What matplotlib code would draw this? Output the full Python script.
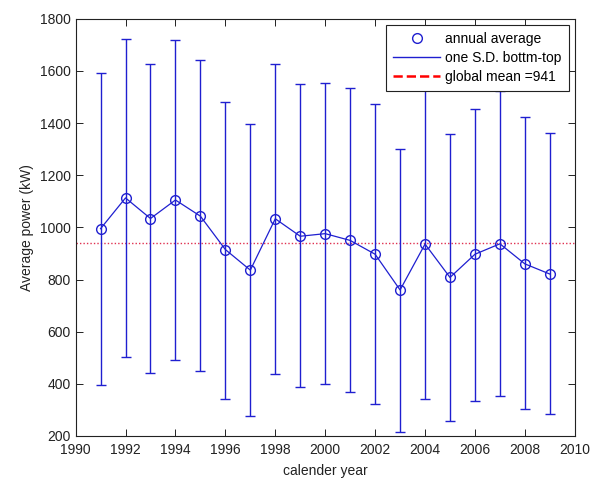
import numpy as np
import matplotlib.pyplot as plt
from matplotlib.lines import Line2D

plt.rcParams['font.family'] = ['Liberation Sans', 'DejaVu Sans']

# annual statistics
years = [1991, 1992, 1993, 1994, 1995, 1996, 1997, 1998, 1999, 2000,
         2001, 2002, 2003, 2004, 2005, 2006, 2007, 2008, 2009]
annual_mean = [995, 1113, 1034, 1105, 1043, 915, 836, 1033, 966, 976,
               950, 897, 760, 936, 808, 897, 937, 860, 821]
sd_top = [1592, 1724, 1628, 1720, 1641, 1481, 1396, 1628, 1548, 1552,
          1533, 1472, 1300, 1530, 1357, 1455, 1522, 1422, 1361]
sd_bottom = [396, 503, 440, 493, 448, 343, 277, 436, 389, 401,
             369, 321, 214, 343, 256, 333, 353, 303, 286]
global_mean = 941

blue = '#1f1fd0'

fig = plt.figure(figsize=(6.0, 4.79), dpi=100)
ax = fig.add_axes([0.126, 0.0898, 0.832, 0.871])

m = np.array(annual_mean)
yerr = [m - np.array(sd_bottom), np.array(sd_top) - m]
ax.errorbar(years, annual_mean, yerr=yerr, fmt='-', color=blue,
            ecolor=blue, elinewidth=1.0, linewidth=0.9, capsize=3.4,
            capthick=1.0, zorder=3)
ax.plot(years, annual_mean, 'o', mfc='none', mec=blue, ms=7, mew=1.0, zorder=4)
ax.axhline(global_mean, color='#e03050', linestyle=(0, (1, 1.5)), linewidth=1.0, zorder=2)

ax.set_xlim(1990, 2010)
ax.set_ylim(200, 1800)
ax.set_xticks(np.arange(1990, 2011, 2))
ax.set_yticks(np.arange(200, 1801, 200))
ax.tick_params(direction='in', top=True, right=True, length=5, labelsize=10,
               colors='#222222', width=0.7)
ax.tick_params(axis='x', pad=5)
for s in ax.spines.values():
    s.set_linewidth(0.8)
    s.set_color('#222222')

ax.set_xlabel('calender year', fontsize=10, color='#222222', labelpad=5)
ax.set_ylabel('Average power (kW)', fontsize=10, color='#222222', labelpad=4)

handles = [
    Line2D([], [], linestyle='none', marker='o', mfc='none', mec=blue, ms=7, mew=1.0),
    Line2D([], [], color=blue, linewidth=1.0),
    Line2D([], [], color='red', linestyle='--', linewidth=1.8),
]
labels = ['annual average', 'one S.D. bottm-top', 'global mean =%d' % global_mean]
leg = ax.legend(handles, labels, loc='upper right', fontsize=10, fancybox=False,
                framealpha=1, edgecolor='#222222', handlelength=3.4,
                handletextpad=0.35, borderpad=0.5, labelspacing=0.35,
                borderaxespad=0.45)
leg.get_frame().set_linewidth(0.8)

fig.savefig('out.png', dpi=100)
